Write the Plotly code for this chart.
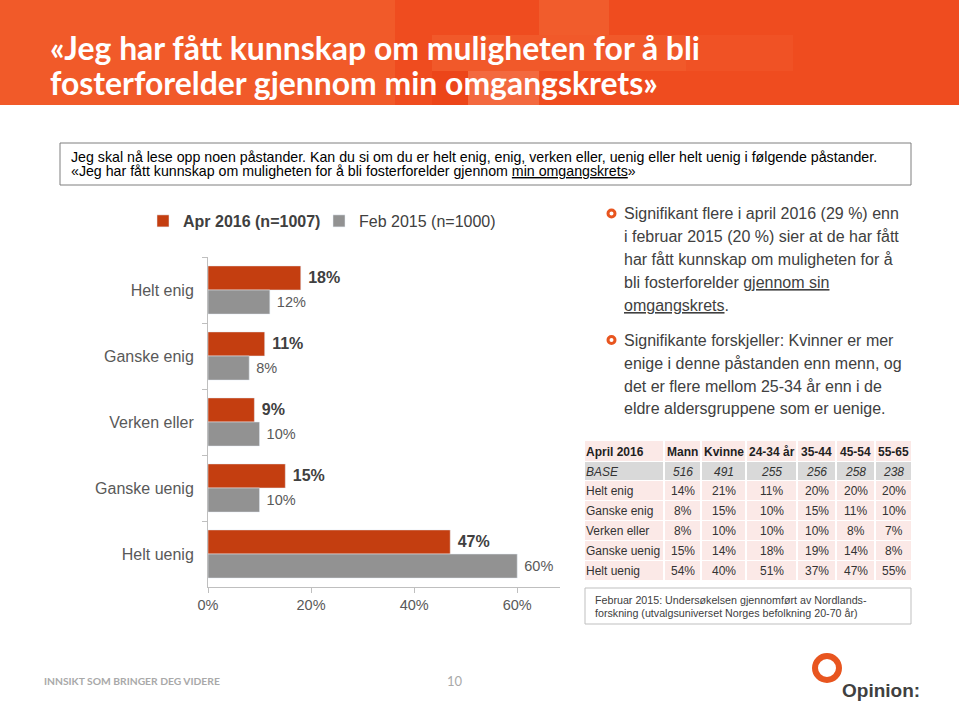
import plotly.graph_objects as go

W, H = 959, 701
categories = ["Helt enig", "Ganske enig", "Verken eller", "Ganske uenig", "Helt uenig"]
apr_2016 = [18, 11, 9, 15, 47]
feb_2015 = [12, 8, 10, 10, 60]
x_ticks = [0, 20, 40, 60]

table_header = ["April 2016", "Mann", "Kvinne", "24-34 år", "35-44", "45-54", "55-65"]
row_labels = ["BASE", "Helt enig", "Ganske enig", "Verken eller", "Ganske uenig", "Helt uenig"]
base_row = ["516", "491", "255", "256", "258", "238"]
helt_enig = ["14%", "21%", "11%", "20%", "20%", "20%"]
ganske_enig = ["8%", "15%", "10%", "15%", "11%", "10%"]
verken_eller = ["8%", "10%", "10%", "10%", "8%", "7%"]
ganske_uenig = ["15%", "14%", "18%", "19%", "14%", "8%"]
helt_uenig = ["54%", "40%", "51%", "37%", "47%", "55%"]

title_lines = ["«Jeg har fått kunnskap om muligheten for å bli", "fosterforelder gjennom min omgangskrets»"]
question_lines = [
    "Jeg skal nå lese opp noen påstander. Kan du si om du er helt enig, enig, verken eller, uenig eller helt uenig i følgende påstander.",
    "«Jeg har fått kunnskap om muligheten for å bli fosterforelder gjennom <u>min omgangskrets</u>»",
]
bullet1 = ["Signifikant flere i april 2016 (29 %) enn", "i februar 2015 (20 %) sier at de har fått",
           "har fått kunnskap om muligheten for å", "bli fosterforelder <u>gjennom sin</u>", "<u>omgangskrets</u>."]
bullet2 = ["Signifikante forskjeller: Kvinner er mer", "enige i denne påstanden enn menn, og",
           "det er flere mellom 25-34 år enn i de", "eldre aldersgruppene som er uenige."]
foot_lines = ["Februar 2015: Undersøkelsen gjennomført av Nordlands-", "forskning (utvalgsuniverset Norges befolkning 20-70 år)"]

RED, GREY = "#C43E10", "#929292"
TXT = "#404040"
FONT = "Liberation Sans, Arial, sans-serif"

def px(x): return x / W
def py(y): return 1 - y / H

shapes, annos = [], []

def rect(x0, y0, x1, y1, fill, line=None, lw=0, layer="below"):
    shapes.append(dict(type="rect", xref="paper", yref="paper", x0=px(x0), x1=px(x1), y0=py(y0), y1=py(y1),
                       fillcolor=fill, layer=layer, line=dict(color=line or fill, width=lw)))

def text(x, y, s, size, color=TXT, anchor="left", family=FONT):
    annos.append(dict(xref="paper", yref="paper", x=px(x), y=py(y), text=s, showarrow=False, xanchor=anchor,
                      yanchor="middle", align=anchor, font=dict(size=size, color=color, family=family),
                      borderpad=0, borderwidth=0))

def ring(cx, cy, r, color, lw):
    shapes.append(dict(type="circle", xref="paper", yref="paper", x0=px(cx - r), x1=px(cx + r), y0=py(cy + r), y1=py(cy - r),
                       fillcolor="rgba(0,0,0,0)", line=dict(color=color, width=lw), layer="above"))

# header band
rect(0, 0, W, 105, "#F15A29")
rect(395, 0, W, 105, "#EF4C1F")
for x0, y0, x1, y1, c in [(539, 0, 609, 35, "#F15C2C"), (432, 35, 686, 71, "#F1592A"), (686, 35, 793, 71, "#F05225"),
                          (468, 71, 539, 105, "#F3693F"), (432, 71, 468, 105, "#EC4519")]:
    rect(x0, y0, x1, y1, c)

for i, line in enumerate(title_lines):
    text(50, [48, 83][i], "<b>%s</b>" % line, 31.9, "#FFFFFF", family="Lato, sans-serif")

rect(60, 143, 911, 185, "#FFFFFF", line="#7F7F7F", lw=1)
for i, line in enumerate(question_lines):
    text(71, [157, 171][i], line, 14.2, "#000000")

for i, line in enumerate(bullet1):
    text(624, 214 + 22.8 * i, line, 16)
for i, line in enumerate(bullet2):
    text(624, 340 + 23 * i, line, 16)
ring(611.5, 213.5, 3.5, "#E8551F", 3)
ring(611.5, 340, 3.5, "#E8551F", 3)

# data table
col_edges = [(585, 663), (665, 700), (702, 745), (747, 796), (798, 835), (837, 874), (876, 911)]
row_edges = [(441, 461), (462, 480), (481, 500), (501, 520), (521, 540), (541, 560), (561, 580)]
PINK, BASE = "#FBE9E7", "#D9D9D9"
table_rows = [table_header,
              ["BASE"] + base_row,
              [row_labels[1]] + helt_enig,
              [row_labels[2]] + ganske_enig,
              [row_labels[3]] + verken_eller,
              [row_labels[4]] + ganske_uenig,
              [row_labels[5]] + helt_uenig]
for r, row in enumerate(table_rows):
    y0, y1 = row_edges[r]
    for c, value in enumerate(row):
        x0, x1 = col_edges[c]
        rect(x0, y0, x1, y1, BASE if r == 1 else PINK)
        label = "<b>%s</b>" % value if r == 0 else ("<i>%s</i>" % value if r == 1 else value)
        xt = 586 if c == 0 else (x0 + x1) / 2
        text(xt, (y0 + y1) / 2 + 0.5, label, 12, "#1F1F1F" if r == 0 else "#333333", anchor="left" if c == 0 else "center")

rect(585, 588, 911, 624, "#FFFFFF", line="#BFBFBF", lw=1)
for i, line in enumerate(foot_lines):
    text(595, [600, 613][i], line, 10.7)

text(44, 681, "<b>INNSIKT SOM BRINGER DEG VIDERE</b>", 10.3, "#A9A9A9", family="Lato, sans-serif")
text(455, 681, "10", 13, "#A9A9A9", anchor="center", family="Lato, sans-serif")
ring(827, 668, 12, "#E8551F", 6)
text(842, 690, "<b>Opinion:</b>", 19)

fig = go.Figure()
fig.add_bar(y=categories, x=apr_2016, name="<b>Apr 2016 (n=1007)</b>", orientation="h", marker_color=RED,
            text=["<b>\u00a0%d%%</b>" % v for v in apr_2016], textposition="outside", cliponaxis=False, constraintext="none",
            textfont=dict(size=16, color=TXT, family=FONT))
fig.add_bar(y=categories, x=feb_2015, name="Feb 2015 (n=1000)", orientation="h", marker_color=GREY,
            text=["\u00a0%d%%" % v for v in feb_2015], textposition="outside", cliponaxis=False, constraintext="none",
            textfont=dict(size=14.5, color="#595959", family=FONT))

fig.update_layout(
    width=W, height=H, autosize=False, margin=dict(l=0, r=0, t=0, b=0), paper_bgcolor="#FFFFFF", plot_bgcolor="#FFFFFF",
    barmode="group", bargap=0.27, bargroupgap=0, shapes=shapes, annotations=annos,
    font=dict(family=FONT, color="#595959", size=16),
    legend=dict(orientation="h", x=px(143), y=py(221), xanchor="left", yanchor="middle",
                bgcolor="rgba(0,0,0,0)", font=dict(size=16, color=TXT), itemclick=False, traceorder="normal",
                entrywidth=131, entrywidthmode="pixels"),
    xaxis=dict(domain=[px(208), px(560)], range=[0, 68.3], tickvals=x_ticks, ticktext=["%d%%" % t for t in x_ticks],
               showgrid=False, zeroline=False, showline=True, linecolor="#BFBFBF", ticks="outside", ticklen=5,
               tickcolor="#BFBFBF", anchor="y", tickfont=dict(size=14.5, color="#595959"), automargin=False),
    yaxis=dict(domain=[py(587), py(257)], autorange="reversed", tickson="boundaries", showgrid=False, showline=True,
               linecolor="#BFBFBF", ticks="outside", ticklen=5, tickcolor="#BFBFBF", anchor="x",
               tickfont=dict(size=16, color="#595959"), ticklabelstandoff=10, automargin=False),
)
fig.write_html("out.html", config=dict(displayModeBar=False), post_script="document.body.style.margin='0';")
